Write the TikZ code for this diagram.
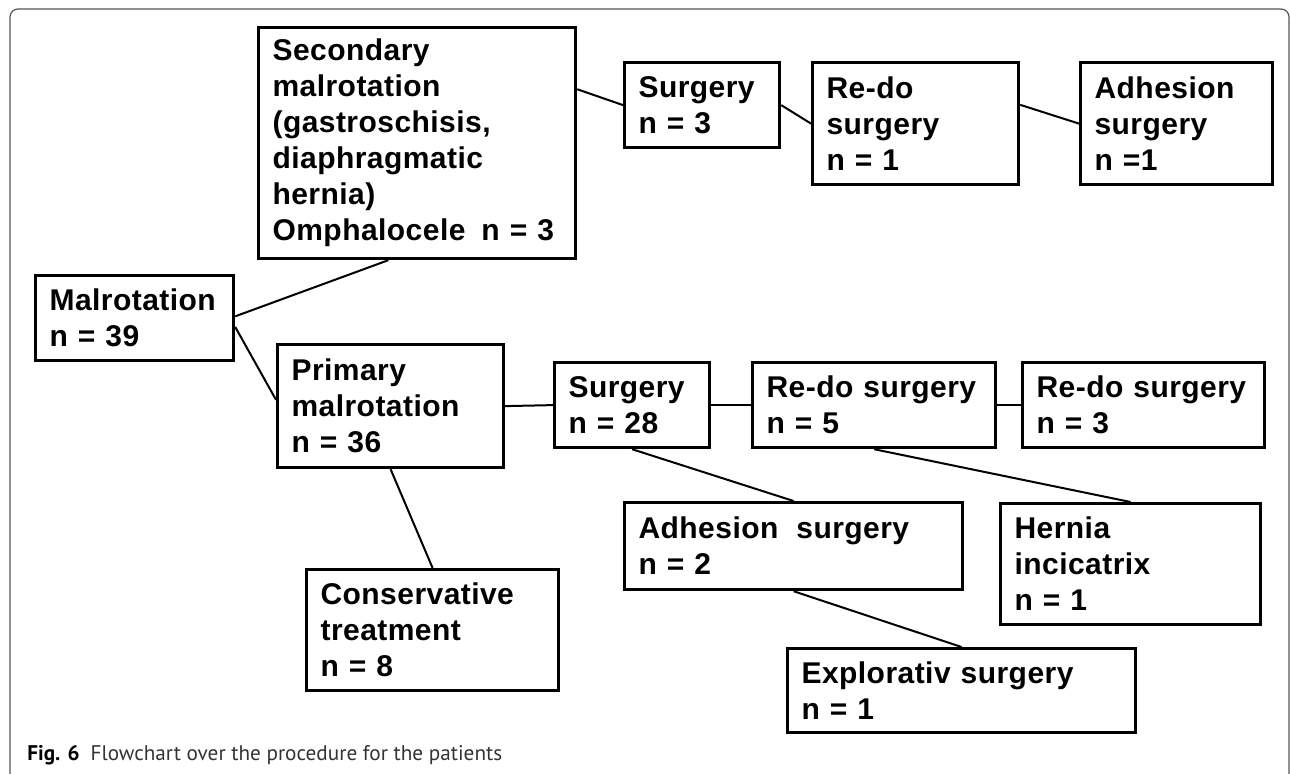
\documentclass[tikz,border=0pt]{standalone}
\usepackage{fontspec}
\usepackage{xcolor}
\usepackage{tikz}
\usetikzlibrary{calc}
\newfontfamily\boxfont[LetterSpace=1.5]{Liberation Sans}
\newfontfamily\captfont{PT Sans}
\definecolor{framegray}{HTML}{555555}
\definecolor{captgray}{HTML}{333333}
\tikzset{
  box/.style={draw=black, line width=1.6pt, anchor=north west, align=left,
    inner xsep=7pt, inner ysep=0pt,
    font=\boxfont\bfseries\fontsize{15}{18}\selectfont},
  link/.style={draw=black, line width=1pt},
  frame/.style={draw=framegray, line width=0.6pt, rounded corners=4pt},
  capt/.style={text=captgray, font=\captfont\fontsize{10.6}{12}\selectfont, inner sep=0pt, anchor=base west},
}
\begin{document}
\begin{tikzpicture}[x=0.5pt, y=-0.5pt]
  \useasboundingbox (0,0) rectangle (1290,773);
  \clip (0,0) rectangle (1290,773);
  \draw[frame] (10,795) rectangle (1289,9);
  % boxes, placed by their top left corners
  \node[box, text width=85pt, minimum height=42.5pt] (mal) at (34,274) {Malrotation\\n = 39};
  \node[box, text width=144.5pt, minimum height=115.5pt] (sec) at (257,26)
    {Secondary\\malrotation\\(gastroschisis,\\diaphragmatic\\hernia)\\Omphalocele\hspace{8pt}n = 3};
  \node[box, text width=99pt, minimum height=61.5pt] (prim) at (276,343) {Primary\\malrotation\\n = 36};
  \node[box, text width=63.5pt, minimum height=42.5pt] (surgA) at (623,61) {Surgery\\n = 3};
  \node[box, text width=89pt, minimum height=61pt] (redoA) at (811,61) {Re-do\\surgery\\n = 1};
  \node[box, text width=82pt, minimum height=61pt] (adhA) at (1079,61) {Adhesion\\surgery\\n =1};
  \node[box, text width=63.5pt, minimum height=42.5pt] (surgB) at (553,361) {Surgery\\n = 28};
  \node[box, text width=107.5pt, minimum height=42.5pt] (redoB) at (751,361) {Re-do surgery\\n = 5};
  \node[box, text width=107pt, minimum height=42.5pt] (redoC) at (1021,361) {Re-do surgery\\n = 3};
  \node[box, text width=112pt, minimum height=60.5pt] (cons) at (305,568) {Conservative\\treatment\\n = 8};
  \node[box, text width=155pt, minimum height=43.5pt] (adhB) at (623,501) {Adhesion\hspace{9pt}surgery\\n = 2};
  \node[box, text width=116pt, minimum height=60.5pt] (hern) at (999,502) {Hernia\\incicatrix\\n = 1};
  \node[box, text width=160pt, minimum height=42pt] (expl) at (786,647) {Explorativ surgery\\n = 1};
  % connectors
  \draw[link] ($(mal.north east)!0.48!(mal.south east)$) -- ($(sec.south west)!0.41!(sec.south east)$);
  \draw[link] ($(mal.north east)!0.6!(mal.south east)$) -- ($(prim.north west)!0.45!(prim.south west)$);
  \draw[link] ($(sec.north east)!0.27!(sec.south east)$) -- (surgA.west);
  \draw[link] (surgA.east) -- (redoA.west);
  \draw[link] ($(redoA.north east)!0.35!(redoA.south east)$) -- (adhA.west);
  \draw[link] (prim.east) -- (surgB.west);
  \draw[link] (surgB.east) -- (redoB.west);
  \draw[link] (redoB.east) -- (redoC.west);
  \draw[link] (prim.south) -- (cons.north);
  \draw[link] (surgB.south) -- (adhB.north);
  \draw[link] (redoB.south) -- (hern.north);
  \draw[link] (adhB.south) -- (expl.north);
  % caption
  \node[capt] (cap) at (27,760) {\textbf{\color{black}Fig. 6}\hspace{5.5pt}Flowchart over the procedure for the patients};
\end{tikzpicture}
\end{document}
